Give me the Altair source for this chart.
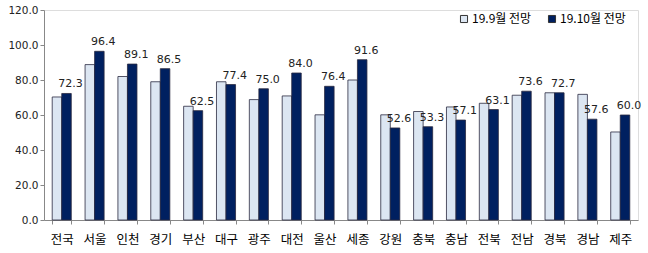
import altair as alt
import pandas as pd

regions = ["전국", "서울", "인천", "경기", "부산", "대구", "광주", "대전", "울산",
           "세종", "강원", "충북", "충남", "전북", "전남", "경북", "경남", "제주"]
sep_values = [70.3, 88.8, 82.0, 79.0, 65.0, 79.0, 68.8, 70.9, 60.1,
              80.0, 60.1, 62.0, 64.6, 66.7, 71.3, 72.7, 71.8, 50.3]
oct_values = [72.3, 96.4, 89.1, 86.5, 62.5, 77.4, 75.0, 84.0, 76.4,
              91.6, 52.6, 53.3, 57.1, 63.1, 73.6, 72.7, 57.6, 60.0]
series_names = ["19.9월 전망", "19.10월 전망"]
y_ticks = [0, 20, 40, 60, 80, 100, 120]

rows = []
for r, a, b in zip(regions, sep_values, oct_values):
    rows.append({"region": r, "series": series_names[0], "value": a})
    rows.append({"region": r, "series": series_names[1], "value": b})
df = pd.DataFrame(rows)
df_lab = df[df["series"] == series_names[1]]

y_scale = alt.Scale(domain=[0, 120], nice=False)
y_axis = alt.Axis(values=y_ticks, format=".1f", labelFont="DejaVu Sans",
                  labelFontSize=10.5, labelColor="#222222", tickSize=4,
                  tickColor="#888888", domainColor="#888888", labelPadding=2,
                  labelOverlap=False, labelFlush=False, grid=False, title=None)
x_scale = alt.Scale(paddingInner=0.42, paddingOuter=0.25)
x_axis = alt.Axis(labelAngle=0, labelFont="Noto Sans CJK KR", labelFontSize=12.5,
                  labelColor="#000000", labelPadding=9, tickBand="extent",
                  tickSize=4, tickColor="#888888", domainColor="#888888",
                  grid=False, title=None)
xo_scale = alt.Scale(domain=series_names, paddingInner=0, paddingOuter=0)

bars = alt.Chart(df).mark_bar(stroke="#2a2a40", strokeWidth=0.8).encode(
    x=alt.X("region:N", sort=regions, scale=x_scale, axis=x_axis),
    xOffset=alt.XOffset("series:N", sort=series_names, scale=xo_scale),
    y=alt.Y("value:Q", scale=y_scale, axis=y_axis),
    color=alt.Color("series:N", sort=series_names,
                    scale=alt.Scale(domain=series_names, range=["#dce6f2", "#002060"]),
                    legend=alt.Legend(title=None, orient="none", legendX=414, legendY=3,
                                      direction="horizontal", symbolType="square",
                                      symbolSize=50, symbolStrokeColor="#333333",
                                      symbolStrokeWidth=1, labelFont="Noto Sans CJK KR",
                                      labelFontSize=12, labelColor="#000000",
                                      columnPadding=14, labelOffset=2)),
)

labels = alt.Chart(df_lab).mark_text(
    baseline="bottom", dy=-4, dx=4, font="DejaVu Sans", fontSize=11, color="#222222"
).encode(
    x=alt.X("region:N", sort=regions, scale=x_scale, axis=x_axis),
    xOffset=alt.XOffset("series:N", sort=series_names, scale=xo_scale),
    y=alt.Y("value:Q", scale=y_scale, axis=y_axis),
    text=alt.Text("value:Q", format=".1f"),
)

chart = alt.layer(bars, labels).properties(
    width=594, height=210,
    padding={"left": 44, "top": 10, "right": 10, "bottom": 33},
    autosize=alt.AutoSizeParams(type="none"),
).configure_view(stroke=None).configure(background="#ffffff")

chart.save("out.html", embed_options={"renderer": "svg", "actions": False})
